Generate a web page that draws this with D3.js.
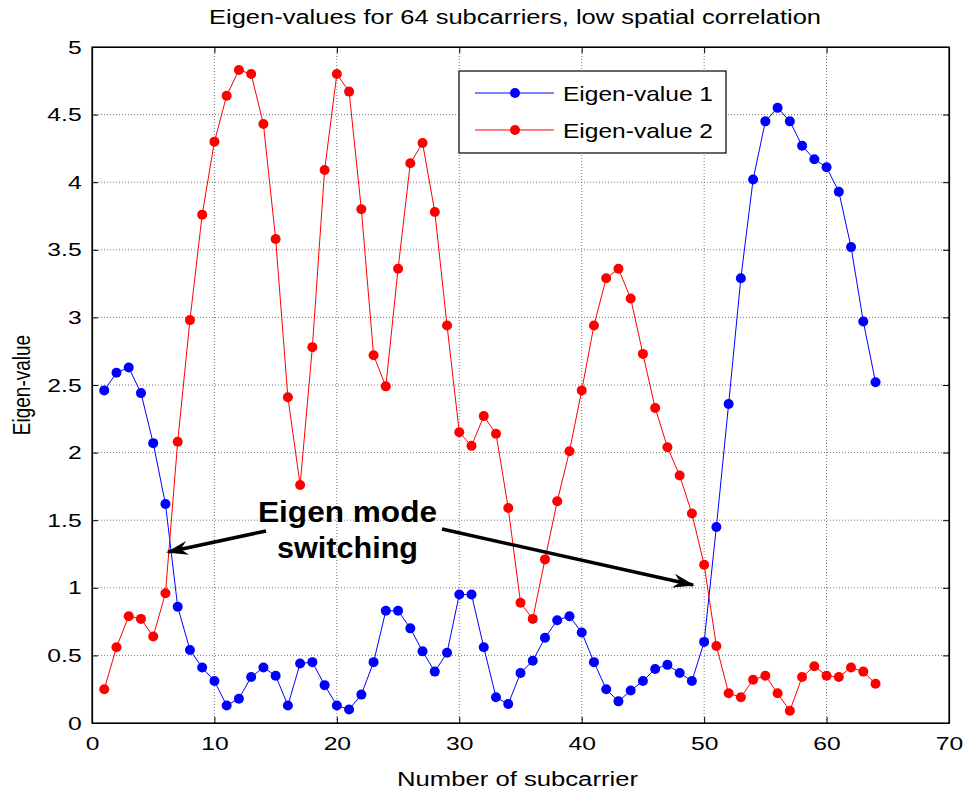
<!DOCTYPE html>
<html>
<head>
<meta charset="utf-8">
<script src="https://cdn.jsdelivr.net/npm/d3@7"></script>
<style>
body { margin: 0; background: #fff; }
text { font-family: "Liberation Sans", Arial, sans-serif; }
</style>
</head>
<body>
<div id="chart-area"></div>
<script>

// data
var subcarriers = d3.range(1, 65);

var eigen1 = [2.46, 2.59, 2.63, 2.44, 2.07, 1.62, 0.86, 0.54, 0.41, 0.31,
	0.13, 0.18, 0.34, 0.41, 0.35, 0.13, 0.44, 0.45, 0.28, 0.13,
	0.10, 0.21, 0.45, 0.83, 0.83, 0.70, 0.53, 0.38, 0.52, 0.95,
	0.95, 0.56, 0.19, 0.14, 0.37, 0.46, 0.63, 0.76, 0.79, 0.67,
	0.45, 0.25, 0.16, 0.24, 0.31, 0.40, 0.43, 0.37, 0.31, 0.60,
	1.45, 2.36, 3.29, 4.02, 4.45, 4.55, 4.45, 4.27, 4.17, 4.11,
	3.93, 3.52, 2.97, 2.52];

var eigen2 = [0.25, 0.56, 0.79, 0.77, 0.64, 0.96, 2.08, 2.98, 3.76, 4.30,
	4.64, 4.83, 4.80, 4.43, 3.58, 2.41, 1.76, 2.78, 4.09, 4.80,
	4.67, 3.80, 2.72, 2.49, 3.36, 4.14, 4.29, 3.78, 2.94, 2.15,
	2.05, 2.27, 2.14, 1.59, 0.89, 0.77, 1.21, 1.64, 2.01, 2.46,
	2.94, 3.29, 3.36, 3.14, 2.73, 2.33, 2.04, 1.83, 1.55, 1.17,
	0.57, 0.22, 0.19, 0.32, 0.35, 0.22, 0.09, 0.34, 0.42, 0.35,
	0.34, 0.41, 0.38, 0.29];

var seriesNames = ["Eigen-value 1", "Eigen-value 2"];
var seriesColors = ["#0000ff", "#ff0000"];

var xTicks = [0, 10, 20, 30, 40, 50, 60, 70];
var yTicks = [0, 0.5, 1, 1.5, 2, 2.5, 3, 3.5, 4, 4.5, 5];

var titleText = "Eigen-values for 64 subcarriers, low spatial correlation";
var xLabel = "Number of subcarrier";
var yLabel = "Eigen-value";

// text in the picture is stretched sideways a bit
var stretch = 1.3;

// SVG drawing area
var margin = {top: 47, right: 19, bottom: 73, left: 92};
var width = 968 - margin.left - margin.right,
	height = 796 - margin.top - margin.bottom;

var svgRoot = d3.select("#chart-area").append("svg")
	.attr("width", 968)
	.attr("height", 796);

var svg = svgRoot.append("g")
	.attr("transform", "translate(" + margin.left + "," + margin.top + ")");

var x = d3.scaleLinear().domain([0, 70]).range([0, width]);
var y = d3.scaleLinear().domain([0, 5]).range([height, 0]);

// grid
svg.append("g")
	.selectAll("line.vgrid")
	.data(xTicks.slice(1, -1))
	.enter().append("line")
	.attr("x1", function(d) { return x(d); })
	.attr("x2", function(d) { return x(d); })
	.attr("y1", 0).attr("y2", height)
	.attr("stroke", "#555").attr("stroke-width", 0.8)
	.attr("stroke-dasharray", "1,2");

svg.append("g")
	.selectAll("line.hgrid")
	.data(yTicks.slice(1, -1))
	.enter().append("line")
	.attr("y1", function(d) { return y(d); })
	.attr("y2", function(d) { return y(d); })
	.attr("x1", 0).attr("x2", width)
	.attr("stroke", "#555").attr("stroke-width", 0.8)
	.attr("stroke-dasharray", "1,2");

// axes, ticks pointing inwards
var xAxis = d3.axisBottom(x).tickValues(xTicks).tickSizeInner(-6).tickSizeOuter(0).tickPadding(14);
var yAxis = d3.axisLeft(y).tickValues(yTicks).tickSizeInner(-6).tickSizeOuter(0).tickPadding(8)
	.tickFormat(function(d) { return d; });

svg.append("g")
	.attr("class", "axis x-axis")
	.attr("transform", "translate(0," + height + ")")
	.call(xAxis);

svg.append("g")
	.attr("class", "axis y-axis")
	.call(yAxis);

svg.append("g")
	.attr("transform", "translate(" + width + ",0)")
	.call(d3.axisRight(y).tickValues(yTicks).tickSizeInner(-6).tickSizeOuter(0).tickFormat(""));

svg.append("g")
	.call(d3.axisTop(x).tickValues(xTicks).tickSizeInner(-6).tickSizeOuter(0).tickFormat(""));

svg.selectAll(".tick text")
	.attr("font-size", 19)
	.attr("font-family", "Liberation Sans, Arial, sans-serif")
	.attr("fill", "#000")
	.attr("transform", "scale(" + stretch + ",1)");
svg.selectAll(".domain").attr("stroke", "#000").attr("stroke-width", 1.2);
svg.selectAll(".tick line").attr("stroke", "#000");

// box
svg.append("rect")
	.attr("width", width).attr("height", height)
	.attr("fill", "none").attr("stroke", "#000").attr("stroke-width", 1.2);

// series
var line = d3.line()
	.x(function(d, i) { return x(subcarriers[i]); })
	.y(function(d) { return y(d); });

[eigen1, eigen2].forEach(function(vals, k) {
	svg.append("path")
		.datum(vals)
		.attr("d", line)
		.attr("fill", "none")
		.attr("stroke", seriesColors[k])
		.attr("stroke-width", 1);
});

[eigen1, eigen2].forEach(function(vals, k) {
	svg.selectAll("circle.s" + k)
		.data(vals)
		.enter().append("circle")
		.attr("class", "s" + k)
		.attr("cx", function(d, i) { return x(subcarriers[i]); })
		.attr("cy", function(d) { return y(d); })
		.attr("r", 5)
		.attr("fill", seriesColors[k]);
});

// legend
var legend = svg.append("g")
	.attr("transform", "translate(" + (459 - margin.left) + "," + (71 - margin.top) + ")");

legend.append("rect")
	.attr("width", 267).attr("height", 82)
	.attr("fill", "#fff").attr("stroke", "#000").attr("stroke-width", 1.2);

seriesNames.forEach(function(name, k) {
	var ly = 22 + k * 37;
	legend.append("line")
		.attr("x1", 16).attr("x2", 95)
		.attr("y1", ly).attr("y2", ly)
		.attr("stroke", seriesColors[k]).attr("stroke-width", 1);
	legend.append("circle")
		.attr("cx", 56).attr("cy", ly).attr("r", 5)
		.attr("fill", seriesColors[k]);
	legend.append("text")
		.attr("x", 104).attr("y", ly + 8)
		.attr("font-size", 21)
		.attr("textLength", 150)
		.attr("lengthAdjust", "spacingAndGlyphs")
		.text(name);
});

// annotation
var defs = svgRoot.append("defs");
defs.append("marker")
	.attr("id", "arrowhead")
	.attr("viewBox", "0 0 22 14")
	.attr("refX", 20).attr("refY", 7)
	.attr("markerWidth", 22).attr("markerHeight", 14)
	.attr("markerUnits", "userSpaceOnUse")
	.attr("orient", "auto")
	.append("path")
	.attr("d", "M0,0 L22,7 L0,14 L7,7 Z")
	.attr("fill", "#000");

var annot = svgRoot.append("g");

annot.append("line")
	.attr("x1", 266).attr("y1", 531)
	.attr("x2", 168).attr("y2", 552)
	.attr("stroke", "#000").attr("stroke-width", 3.5)
	.attr("marker-end", "url(#arrowhead)");

annot.append("line")
	.attr("x1", 442).attr("y1", 529)
	.attr("x2", 693).attr("y2", 585)
	.attr("stroke", "#000").attr("stroke-width", 3.5)
	.attr("marker-end", "url(#arrowhead)");

annot.append("text")
	.attr("x", 258).attr("y", 522)
	.attr("font-size", 29).attr("font-weight", "bold")
	.attr("textLength", 179)
	.attr("lengthAdjust", "spacingAndGlyphs")
	.text("Eigen mode");

annot.append("text")
	.attr("x", 277).attr("y", 558)
	.attr("font-size", 29).attr("font-weight", "bold")
	.attr("textLength", 141)
	.attr("lengthAdjust", "spacingAndGlyphs")
	.text("switching");

// titles
svgRoot.append("text")
	.attr("x", 209).attr("y", 24)
	.attr("font-size", 20)
	.attr("textLength", 612)
	.attr("lengthAdjust", "spacingAndGlyphs")
	.text(titleText);

svgRoot.append("text")
	.attr("x", 397).attr("y", 786)
	.attr("font-size", 20)
	.attr("textLength", 241)
	.attr("lengthAdjust", "spacingAndGlyphs")
	.text(xLabel);

svgRoot.append("text")
	.attr("transform", "translate(30," + (47 + height / 2) + ") scale(" + stretch + ",1) rotate(-90)")
	.attr("text-anchor", "middle")
	.attr("font-size", 19)
	.text(yLabel);

</script>
</body>
</html>
